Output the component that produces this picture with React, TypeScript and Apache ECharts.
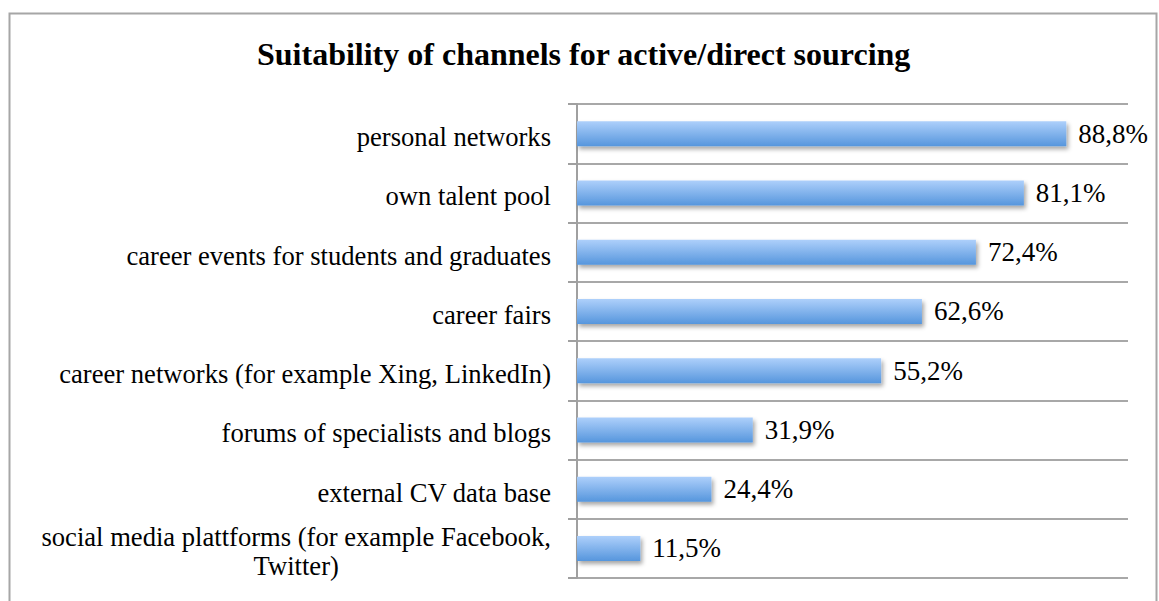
import React, { useEffect, useRef } from "react";
import * as echarts from "echarts";

const categories = [
  "personal networks",
  "own talent pool",
  "career events for students and graduates",
  "career fairs",
  "career networks (for example Xing, LinkedIn)",
  "forums of specialists and blogs",
  "external CV data base",
  "social media plattforms (for example Facebook,\nTwitter)",
];
const values = [88.8, 81.1, 72.4, 62.6, 55.2, 31.9, 24.4, 11.5];
const titleText = "Suitability of channels for active/direct sourcing";

const FONT = "'Liberation Serif', 'Times New Roman', serif";

export default function App() {
  const ref = useRef<HTMLDivElement>(null);
  useEffect(() => {
    const chart = echarts.init(ref.current!, undefined, { renderer: "svg" });
    chart.setOption({
      animation: false,
      backgroundColor: "#ffffff",
      title: {
        text: titleText,
        left: 252,
        top: 33,
        textStyle: { fontFamily: FONT, fontSize: 32, fontWeight: "bold", color: "#000" },
      },
      graphic: [
        {
          type: "rect",
          shape: { x: 9.5, y: 13.5, width: 1147, height: 620 },
          style: { fill: "none", stroke: "#a6a6a6", lineWidth: 2 },
          silent: true,
        },
      ],
      grid: { left: 577, right: 31, top: 104, bottom: 23 },
      xAxis: {
        type: "value",
        min: 0,
        max: 100,
        show: false,
        splitLine: { show: false },
      },
      yAxis: {
        type: "category",
        data: categories,
        inverse: true,
        axisLine: { show: true, lineStyle: { color: "#a0a0a0", width: 2 } },
        axisTick: { show: true, length: 9, lineStyle: { color: "#a0a0a0", width: 2 } },
        splitLine: { show: true, lineStyle: { color: "#a8a8a8", width: 2 } },
        axisLabel: {
          margin: 26,
          fontFamily: FONT,
          fontSize: 26.6,
          color: "#000",
          lineHeight: 29,
          padding: [7, 0, 0, 0],
          formatter: (v: string) =>
            v.includes("\n") ? v.split("\n").map((l) => `{c|${l}}`).join("\n") : v,
          rich: {
            c: { align: "center", fontFamily: FONT, fontSize: 26.6, color: "#000", lineHeight: 29 },
          },
        },
      },
      series: [
        {
          type: "bar",
          data: values,
          barWidth: 25,
          itemStyle: {
            color: new echarts.graphic.LinearGradient(0, 0, 0, 1, [
              { offset: 0, color: "#aed0fb" },
              { offset: 1, color: "#5696dd" },
            ]),
            shadowColor: "rgba(0,0,0,0.35)",
            shadowBlur: 4,
            shadowOffsetX: 2,
            shadowOffsetY: 3,
          },
          label: {
            show: true,
            position: "right",
            distance: 12,
            fontFamily: FONT,
            fontSize: 27,
            color: "#000",
            padding: [7, 0, 0, 0],
            formatter: (p: any) => p.value.toFixed(1).replace(".", ",") + "%",
          },
        },
      ],
    });
    return () => chart.dispose();
  }, []);
  return (
    <div
      ref={ref}
      style={{ position: "fixed", left: 0, top: 0, width: 1159, height: 601 }}
    />
  );
}
